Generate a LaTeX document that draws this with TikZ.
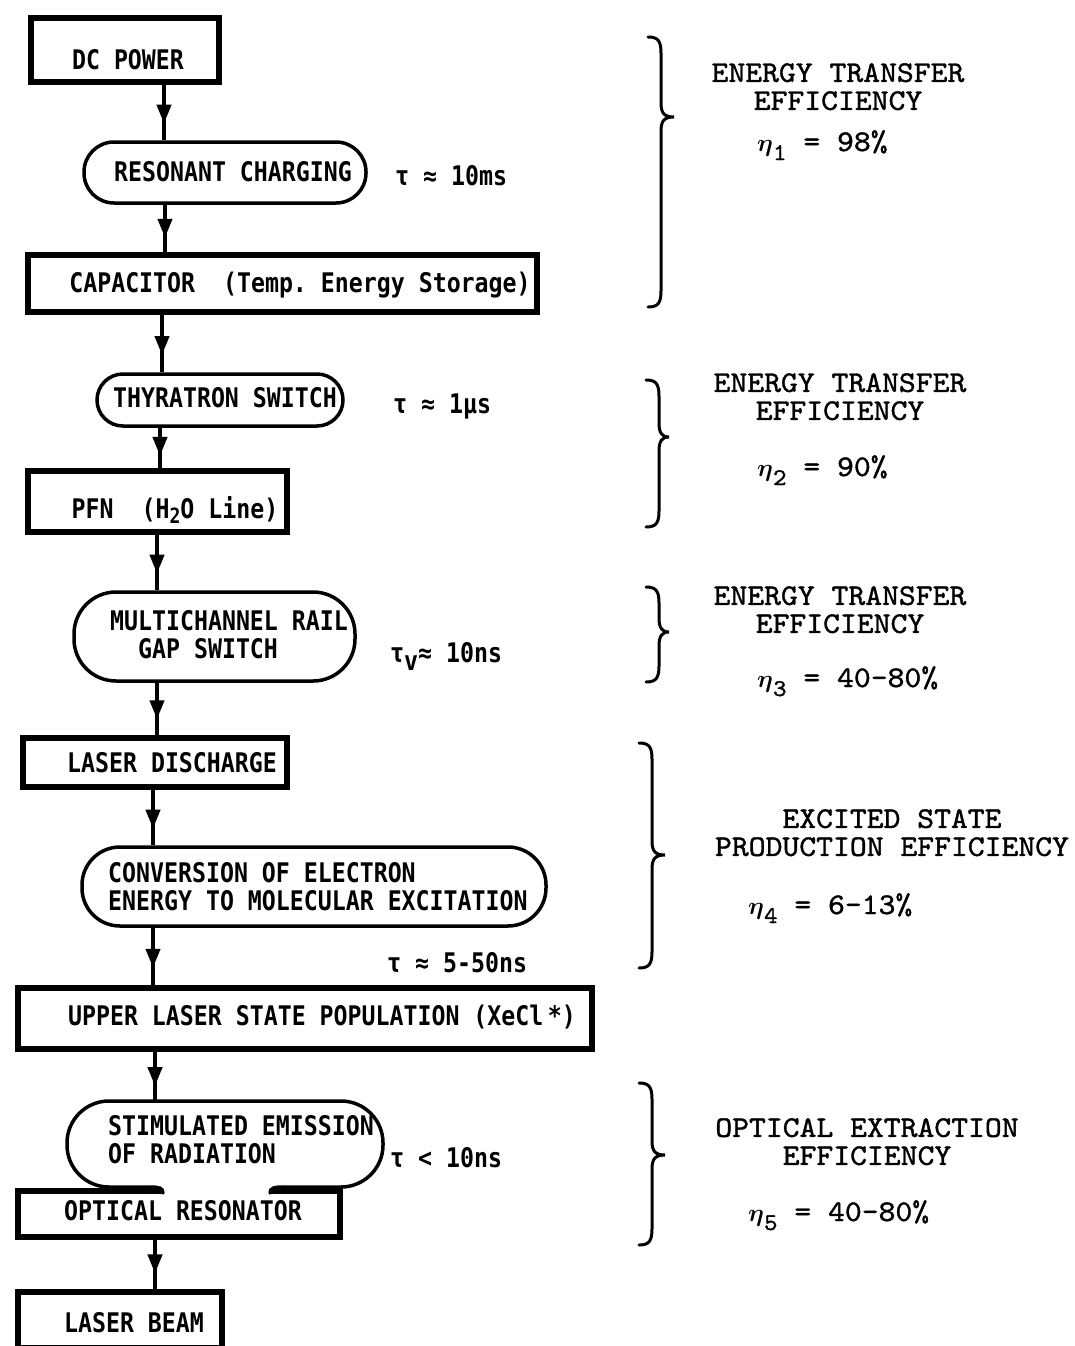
\documentclass[tikz,border=0pt]{standalone}
\usepackage{fontspec}
\usepackage{bm}
\usetikzlibrary{arrows.meta,decorations.markings,calc}
\newfontfamily\lblfont[FakeStretch=0.86]{DejaVu Sans Mono}
\newfontfamily\rfont[Extension=.otf,FakeBold=1.2,FakeStretch=1.07]{lmmono10-regular}
\newcommand\mybrace[5]{%
 \draw[brc] ({#1-13},#2) .. controls ({#1-3},#2) and (#1,{#2+4}) .. (#1,{#2+16})
   -- (#1,{#3-14}) .. controls (#1,{#3-4}) and ({#1+3},#3) .. ({#1+#5},#3)
   .. controls ({#1+3},#3) and (#1,{#3+4}) .. (#1,{#3+14})
   -- (#1,{#4-16}) .. controls (#1,{#4-4}) and ({#1-3},#4) .. ({#1-13},#4);}
\newcommand\etaline[2]{$\bm{\eta}$\raisebox{-9pt}{\fontsize{24}{24}\selectfont #1} = #2}
\tikzset{
 boxs/.style={draw, line width=6pt, inner sep=0pt, line join=miter},
 boxline/.style={line width=6pt, line join=miter},
 pill/.style={draw, line width=3.5pt, inner sep=0pt},
 pilline/.style={line width=3.5pt, line cap=round},
 lbl/.style={inner sep=0pt, font=\lblfont\bfseries\fontsize{27}{28}\selectfont\frenchspacing, align=left},
 rtxt/.style={inner sep=0pt, font=\rfont\fontsize{30}{28}\selectfont\frenchspacing, align=center},
 flow/.style={line width=4pt, decoration={markings, mark=at position 0.7 with {\arrow{Triangle[length=19pt,width=14pt]}}}, postaction={decorate}},
 brc/.style={line width=3pt, line cap=round}
}
\begin{document}
\begin{tikzpicture}[x=1pt,y=-1pt]
\useasboundingbox (0,0) rectangle (1074,1346);
% shapes
\node[boxs, minimum width=188pt, minimum height=64pt] (dc) at (125,50) {};
\node[pill, rounded corners=30pt, minimum width=282pt, minimum height=61pt] (rc) at (225,172.5) {};
\node[boxs, minimum width=509pt, minimum height=57pt] (cap) at (282.5,283.5) {};
\node[pill, rounded corners=26pt, minimum width=246pt, minimum height=52pt] (thy) at (220,400) {};
\node[boxs, minimum width=259pt, minimum height=61pt] (pfn) at (157.5,501.5) {};
\node[pill, rounded corners=42pt, minimum width=281pt, minimum height=89pt] (mc) at (214.5,636.5) {};
\node[boxs, minimum width=264pt, minimum height=49pt] (ld) at (155,762.5) {};
\node[pill, rounded corners=38pt, minimum width=464pt, minimum height=79pt] (conv) at (314,886.5) {};
\node[boxs, minimum width=574pt, minimum height=61pt] (up) at (305,1018.5) {};
\node[inner sep=0pt, minimum width=316pt, minimum height=86pt] (stim) at (225,1144) {};
\node[inner sep=0pt, minimum width=322pt, minimum height=46pt] (opt) at (179,1214) {};
\node[boxs, minimum width=204pt, minimum height=56pt] (beam) at (120,1320) {};
% stimulated emission outline opening into the optical resonator
\draw[pilline, rounded corners=42pt] (150,1187) -- (67,1187) -- (67,1101) -- (383,1101) -- (383,1187) -- (284,1187);
\draw[pilline] (150,1187) .. controls (159,1187) and (163,1188) .. (163,1193);
\draw[pilline] (284,1187) .. controls (274,1187) and (270,1188) .. (270,1193);
\draw[boxline] (163,1191) -- (18,1191) -- (18,1237) -- (340,1237) -- (340,1191) -- (270,1191);
% labels
\node[lbl, anchor=base] (dct) at (128,70) {DC POWER};
\node[lbl, anchor=base] (rct) at (233,181) {RESONANT CHARGING};
\node[lbl, anchor=base west] (t1) at (395,185) {τ ≈ 10ms};
\node[lbl, anchor=base] (capt) at (300,292) {CAPACITOR\ \ (Temp. Energy Storage)};
\node[lbl, anchor=base] (thyt) at (225,407) {THYRATRON SWITCH};
\node[lbl, anchor=base west] (t2) at (393,413) {τ ≈ 1µs};
\node[lbl, anchor=base] (pfnt) at (175,518) {PFN\ \ (H\raisebox{-5pt}{\fontsize{21}{21}\selectfont 2}O Line)};
\node[lbl, anchor=north west] (mct) at (110,610) {MULTICHANNEL RAIL\\\hphantom{MU}GAP SWITCH};
\node[lbl, anchor=base west] (t3) at (390,662) {τ\raisebox{-8pt}{v}≈ 10ns};
\node[lbl, anchor=base] (ldt) at (172,772) {LASER DISCHARGE};
\node[lbl, anchor=north west] (convt) at (108,862) {CONVERSION OF ELECTRON\\ENERGY TO MOLECULAR EXCITATION};
\node[lbl, anchor=base west] (t4) at (387,972) {τ ≈ 5-50ns};
\node[lbl, anchor=base] (upt) at (322,1025) {UPPER LASER STATE POPULATION (XeCl\,*)};
\node[lbl, anchor=north west] (stimt) at (108,1115) {STIMULATED EMISSION\\OF RADIATION};
\node[lbl, anchor=base west] (t5) at (390,1167) {τ < 10ns};
\node[lbl, anchor=base] (optt) at (183,1220) {OPTICAL RESONATOR};
\node[lbl, anchor=base] (beamt) at (134,1332) {LASER BEAM};
% connectors
\coordinate (x1) at (164,0);
\coordinate (x2) at (165,0);
\coordinate (x3) at (162,0);
\coordinate (x4) at (160,0);
\coordinate (x5) at (157,0);
\coordinate (x6) at (157,0);
\coordinate (x7) at (153,0);
\coordinate (x8) at (153,0);
\coordinate (x9) at (155,0);
\coordinate (x10) at (155,0);
\draw[flow] (dc.south -| x1) -- (rc.north -| x1);
\draw[flow] (rc.south -| x2) -- (cap.north -| x2);
\draw[flow] (cap.south -| x3) -- (thy.north -| x3);
\draw[flow] (thy.south -| x4) -- (pfn.north -| x4);
\draw[flow] (pfn.south -| x5) -- (mc.north -| x5);
\draw[flow] (mc.south -| x6) -- (ld.north -| x6);
\draw[flow] (ld.south -| x7) -- (conv.north -| x7);
\draw[flow] (conv.south -| x8) -- (up.north -| x8);
\draw[flow] (up.south -| x9) -- (stim.north -| x9);
\draw[flow] (opt.south -| x10) -- (beam.north -| x10);
% braces
\mybrace{661}{37}{117}{307}{13}
\mybrace{659}{380}{437}{527}{10}
\mybrace{659}{587}{632}{682}{10}
\mybrace{652}{743}{855}{968}{13}
\mybrace{652}{1083}{1155}{1245}{13}
% right texts
\node[rtxt, anchor=north] (r1) at (838,63) {ENERGY TRANSFER\\EFFICIENCY};
\node[rtxt, anchor=base west] (e1) at (757,151) {\etaline{1}{98\%}};
\node[rtxt, anchor=north] (r2) at (840,373) {ENERGY TRANSFER\\EFFICIENCY};
\node[rtxt, anchor=base west] (e2) at (757,476) {\etaline{2}{90\%}};
\node[rtxt, anchor=north] (r3) at (840,586) {ENERGY TRANSFER\\EFFICIENCY};
\node[rtxt, anchor=base west] (e3) at (757,687) {\etaline{3}{40-80\%}};
\node[rtxt, anchor=north] (r4) at (892,809) {EXCITED STATE\\PRODUCTION EFFICIENCY};
\node[rtxt, anchor=base west] (e4) at (748,914) {\etaline{4}{6-13\%}};
\node[rtxt, anchor=north] (r5) at (867,1118) {OPTICAL EXTRACTION\\EFFICIENCY};
\node[rtxt, anchor=base west] (e5) at (748,1221) {\etaline{5}{40-80\%}};
\end{tikzpicture}
\end{document}
